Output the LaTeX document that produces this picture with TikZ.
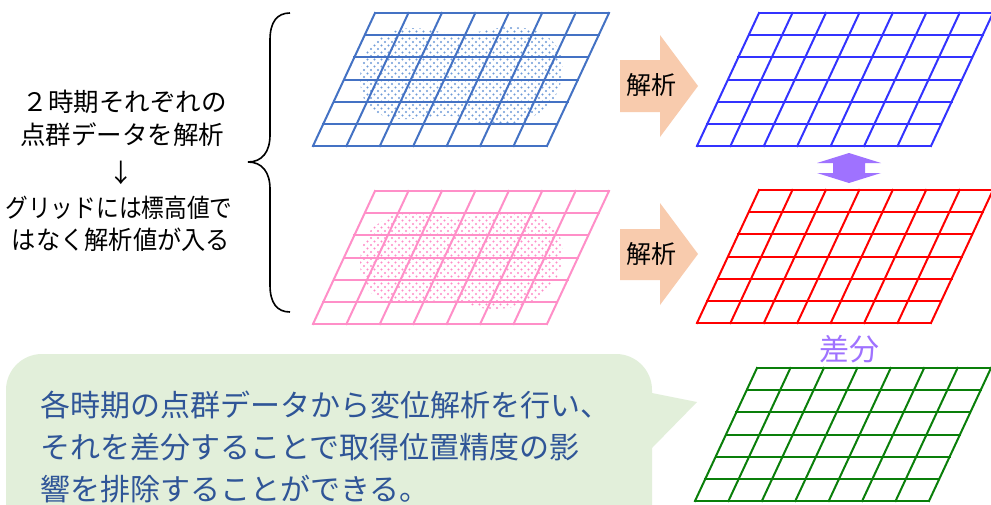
\documentclass[tikz,border=0pt]{standalone}
\usepackage{fontspec}
\setmainfont{Noto Sans CJK JP}
\usetikzlibrary{patterns}
\pgfdeclarepatternformonly{pdots}{\pgfqpoint{-1.5pt}{-1.5pt}}{\pgfqpoint{8.5pt}{8.5pt}}{\pgfqpoint{7pt}{7pt}}{%
  \pgfpathcircle{\pgfqpoint{0pt}{0pt}}{1.15pt}%
  \pgfpathcircle{\pgfqpoint{3.5pt}{3.5pt}}{1.15pt}%
  \pgfusepath{fill}}
\definecolor{gridA}{HTML}{4472C4}
\definecolor{dotA}{HTML}{6F9BD8}
\definecolor{gridB}{HTML}{FF8FC8}
\definecolor{dotB}{HTML}{FF8CC8}
\definecolor{gridC}{HTML}{3333FF}
\definecolor{gridD}{HTML}{FF0000}
\definecolor{gridE}{HTML}{0A7F0A}
\definecolor{arrowfill}{HTML}{F8CBAD}
\definecolor{purp}{HTML}{9F72FF}
\definecolor{bubblefill}{HTML}{E2EFDA}
\definecolor{bubbletext}{HTML}{2F5597}
\tikzset{
  pgrid/.pic={
    \foreach \i in {0,...,6}{
      \draw[pic actions] ({62*\i/6},{-133*\i/6}) -- ({234+62*\i/6},{-133*\i/6});
    }
    \foreach \j in {0,...,7}{
      \draw[pic actions] ({234*\j/7},0) -- ({234*\j/7+62},-133);
    }
  },
  gridline/.style={line width=2pt, line cap=rect},
  lefttext/.style={font=\fontsize{25.5}{30}\selectfont, inner sep=0pt, anchor=center},
  msgtext/.style={font=\fontsize{30}{42}\selectfont, text=bubbletext, inner sep=0pt, anchor=west},
  arrowlabel/.style={font=\fontsize{25}{30}\selectfont, inner sep=0pt, anchor=center},
  blockarrow/.style={fill=arrowfill, draw=none},
}
\newcommand{\blobpath}{plot[smooth cycle, tension=0.6] coordinates {(360,80) (368,50) (390,33) (415,28) (460,34) (510,27) (545,35) (562,60) (556,95) (530,118) (490,125) (450,116) (400,119) (370,108)}}
\begin{document}
\begin{tikzpicture}[x=1pt,y=-1pt]
\clip (0,0) rectangle (991,504);
\fill[white] (0,0) rectangle (991,504);

% point clouds
\fill[pattern=pdots, pattern color=dotA] \blobpath;
\begin{scope}[yshift=-184pt]
\fill[pattern=pdots, pattern color=dotB] \blobpath;
\end{scope}

% grids
\pic[draw=gridA, gridline] (gA) at (313,146) {pgrid};
\pic[draw=gridB, gridline] (gB) at (313,324) {pgrid};
\pic[draw=gridC, gridline] (gC) at (697,146) {pgrid};
\pic[draw=gridD, gridline] (gD) at (697,323) {pgrid};
\pic[draw=gridE, gridline] (gE) at (695,501) {pgrid};

% analysis arrows
\fill[blockarrow] (620,60) -- (660,60) -- (660,35) -- (698,86) -- (660,137) -- (660,112) -- (620,112) -- cycle;
\node[arrowlabel] (ana1) at (651,85) {解析};
\fill[blockarrow] (620,229) -- (660,229) -- (660,203) -- (698,254) -- (660,305) -- (660,280) -- (620,280) -- cycle;
\node[arrowlabel] (ana2) at (651,254) {解析};

% double arrow
\fill[purp] (849,153) -- (881,163) -- (865,163) -- (865,173) -- (881,173) -- (849,183) -- (817,173) -- (833,173) -- (833,163) -- (817,163) -- cycle;
\node[font=\fontsize{30}{36}\selectfont, text=purp, inner sep=0pt] (diff) at (849,349) {差分};

% brace
\draw[line width=1.6pt] (290,13) .. controls (277,13) and (270,22) .. (270,40) -- (270,135)
  .. controls (270,152) and (262,162) .. (248,162)
  .. controls (262,162) and (270,172) .. (270,189) -- (270,285)
  .. controls (270,303) and (277,312) .. (290,312);

% left text
\node[lefttext] (l1) at (125,102) {２時期それぞれの};
\node[lefttext] (l2) at (122,135) {点群データを解析};
\node[lefttext] (l3) at (121,173) {↓};
\node[lefttext] (l4) at (119,208) {\scalebox{0.89}[1]{グリッドには標高値で}};
\node[lefttext] (l5) at (121,240) {\scalebox{0.95}[1]{はなく解析値が入る}};

% speech bubble
\fill[bubblefill] (652,448) -- (652,540) -- (6,540) -- (6,390) arc[start angle=180, end angle=270, radius=36]
  -- (616,354) arc[start angle=270, end angle=360, radius=36] -- (652,393) -- (697,402) -- cycle;
\node[msgtext] (m1) at (40,405) {各時期の点群データから変位解析を行い、};
\node[msgtext] (m2) at (40,447) {それを差分することで取得位置精度の影};
\node[msgtext] (m3) at (40,489) {響を排除することができる。};
\end{tikzpicture}
\end{document}
